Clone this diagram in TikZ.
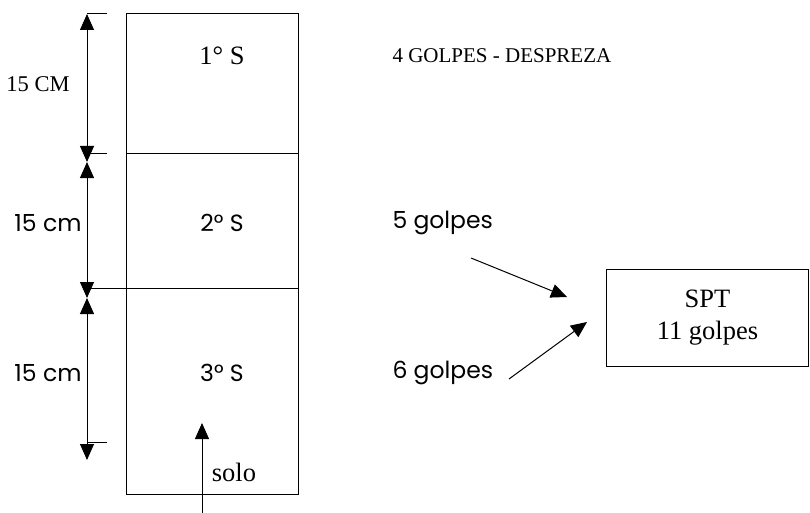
\documentclass[tikz,border=0pt]{standalone}
\usepackage{fontspec}
\setmainfont{Liberation Serif}
\newfontfamily\gothic{Poppins}
\usetikzlibrary{arrows.meta,positioning}

\tikzset{
  dimline/.style={line width=1pt,{Triangle[length=16pt,width=14pt]}-{Triangle[length=16pt,width=14pt]}},
  feedline/.style={line width=1pt,-{Triangle[length=16pt,width=14pt]}},
  sanslabel/.style={font=\gothic\fontsize{23.5}{26}\selectfont,inner sep=0pt},
  seriflabel/.style={font=\fontsize{22.5}{26}\selectfont,inner sep=0pt},
  bigserif/.style={font=\fontsize{26.5}{30}\selectfont,inner sep=0pt},
  sptbox/.style={draw,line width=1pt,minimum width=202pt,minimum height=97pt,align=center,font=\fontsize{26.5}{32}\selectfont}
}

\begin{document}
\begin{tikzpicture}[x=1pt,y=-1pt,line width=1pt]
\useasboundingbox (0,0) rectangle (810,513);

% soil column
\draw (126,14) rectangle (298,494);
\draw (126,154) -- (298,154);
\draw (87,288) -- (298,288);

% ticks of the dimension lines
\draw (87,14) -- (107,14);
\draw (87,154) -- (107,154);
\draw (87,442) -- (107,442);

% dimension lines
\coordinate (d0) at (87,14);
\coordinate (d1) at (87,162);
\coordinate (d2) at (87,298);
\coordinate (d3) at (87,460);
\draw[dimline] (d0) -- (d1);
\draw[dimline] (d1) -- (d2);
\draw[dimline] (d2) -- (d3);

\node[seriflabel] (cm1) at (38,84) {15 CM};
\node[sanslabel,anchor=east] (cm2) at (82,223) {15 cm};
\node[sanslabel,anchor=east] (cm3) at (82,373) {15 cm};

% layers
\node[bigserif] (s1) at (222,56) {1° S};
\node[sanslabel] (s2) at (222,223) {2° S};
\node[sanslabel] (s3) at (222,373) {3° S};
\node[bigserif] (solo) at (234,472) {solo};

\coordinate (ground) at (202,513);
\coordinate (surface) at (202,423);
\draw[feedline] (ground) -- (surface);

% blow counts
\node[seriflabel,anchor=west,font=\fontsize{21}{24}\selectfont] (g4) at (392,56) {4 GOLPES - DESPREZA};
\node[sanslabel,anchor=west] (g5) at (392,223) {5 golpes};
\node[sanslabel,anchor=west] (g6) at (392,373) {6 golpes};

\node[sptbox] (spt) at (707.5,317.5) {SPT\\11 golpes};

\coordinate (a5) at (471,258);
\coordinate (b5) at (567,297);
\coordinate (a6) at (509,379);
\coordinate (b6) at (587,322);
\draw[feedline] (a5) -- (b5);
\draw[feedline] (a6) -- (b6);
\end{tikzpicture}
\end{document}
